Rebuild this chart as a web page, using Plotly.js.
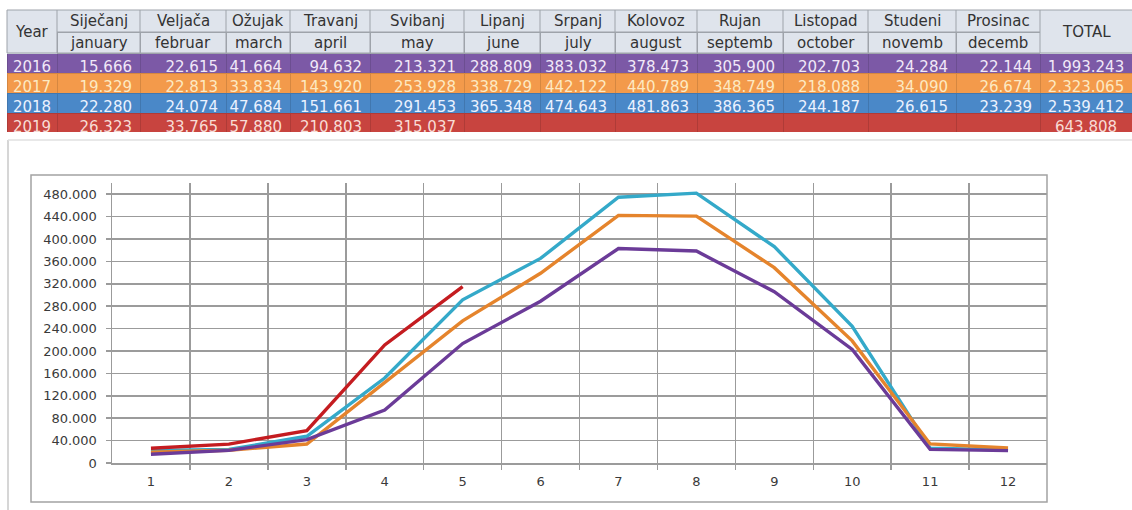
<!DOCTYPE html>
<html>
<head>
<meta charset="utf-8">
<script src="https://cdn.plot.ly/plotly-3.0.1.min.js"></script>
<style>html,body{margin:0;padding:0;background:#fff;}#chart{width:1132px;height:510px;}</style>
</head>
<body>
<div id="chart"></div>
<script>
// ---------- data ----------
const years = ["2016", "2017", "2018", "2019"];
const monthsHr = ["Siječanj","Veljača","Ožujak","Travanj","Svibanj","Lipanj","Srpanj","Kolovoz","Rujan","Listopad","Studeni","Prosinac"];
const monthsEn = ["january","februar","march","april","may","june","july","august","septemb","october","novemb","decemb"];
const monthNums = [1,2,3,4,5,6,7,8,9,10,11,12];
const v2016 = [15666, 22615, 41664, 94632, 213321, 288809, 383032, 378473, 305900, 202703, 24284, 22144];
const v2017 = [19329, 22813, 33834, 143920, 253928, 338729, 442122, 440789, 348749, 218088, 34090, 26674];
const v2018 = [22280, 24074, 47684, 151661, 291453, 365348, 474643, 481863, 386365, 244187, 26615, 23239];
const v2019 = [26323, 33765, 57880, 210803, 315037];
const totals = [1993243, 2323065, 2539412, 643808];

// ---------- styles / layout constants ----------
const W = 1132, H = 510;
const FONT = "DejaVu Sans";
const hdrFill = "#dfe4ec";
const hdrLine = "#9ea3aa";
const rowFill = ["#7c59a6", "#f39a4b", "#4a88c8", "#c8443f"];
const rowText = ["#f1e8f8", "#fde9c2", "#eaf2ff", "#f8dcd6"];
const lineCol = {"2016": "#6b3b98", "2017": "#e5842c", "2018": "#34a9c9", "2019": "#c41c20"};
const colW = [50, 83, 86, 64, 80, 94, 76, 75, 82, 86, 85, 88, 84, 92];
const tableLeft = 7, hTop = 10, hMid = 32, hBot = 53, rowH = 20;
const plotL = 112, plotR = 1047, plotT = 183, plotB = 463;

const X = px => px / W;
const Y = py => 1 - py / H;
const fmt = n => String(n).replace(/\B(?=(\d{3})+(?!\d))/g, ".");

const edges = [tableLeft];
colW.forEach(w => edges.push(edges[edges.length - 1] + w));
const tBot = hBot + rowH * years.length;

// ---------- table (second header row box + data cells) ----------
const series = [v2016, v2017, v2018, v2019];
const cellCols = [years];
monthNums.forEach((m, i) => cellCols.push(series.map(s => (i < s.length ? fmt(s[i]) : ""))));
cellCols.push(totals.map(fmt));
const nCols = cellCols.length;
const aligns = cellCols.map((c, i) => (i === 0 || i === nCols - 1) ? "center" : "right");
const hdrVals = cellCols.map(() => "");
const hdrLineCols = hdrVals.map((v, i) => (i === 0 || i === nCols - 1) ? hdrFill : hdrLine);

const tableTrace = {
  type: "table",
  domain: {x: [X(tableLeft), 1], y: [Y(tBot), Y(hMid)]},
  columnwidth: colW,
  header: {
    values: hdrVals,
    height: hBot - hMid,
    align: "center",
    fill: {color: hdrFill},
    line: {color: hdrLineCols, width: 1},
    font: {family: FONT, size: 15, color: "#333333"}
  },
  cells: {
    values: cellCols,
    align: aligns,
    height: rowH,
    fill: {color: cellCols.map(() => rowFill)},
    line: {color: "rgba(0,0,0,0.12)", width: 1},
    font: {family: FONT, size: 15, color: cellCols.map(() => rowText)}
  },
  hoverinfo: "skip"
};

// ---------- line traces ----------
const order = [["2018", v2018], ["2017", v2017], ["2016", v2016], ["2019", v2019]];
const lineTraces = order.map(([name, vals]) => ({
  type: "scatter",
  mode: "lines",
  name: name,
  x: monthNums.slice(0, vals.length),
  y: vals,
  line: {color: lineCol[name], width: 3.4},
  hoverinfo: "x+y+name"
}));

// ---------- header shapes & annotations ----------
const shapes = [];
const annotations = [];
shapes.push({type: "rect", xref: "paper", yref: "paper", x0: X(edges[0]), x1: 1, y0: Y(hBot), y1: Y(hTop),
  fillcolor: hdrFill, line: {width: 0}, layer: "below"});
[hTop, hBot].forEach(py => shapes.push({type: "line", xref: "paper", yref: "paper", x0: X(edges[0]), x1: 1, y0: Y(py), y1: Y(py), line: {color: hdrLine, width: 1}}));
shapes.push({type: "line", xref: "paper", yref: "paper", x0: X(edges[1]), x1: X(edges[13]), y0: Y(hMid), y1: Y(hMid), line: {color: hdrLine, width: 1}});
edges.slice(0, 14).forEach(ex => shapes.push({type: "line", xref: "paper", yref: "paper", x0: X(ex), x1: X(ex), y0: Y(hBot), y1: Y(hTop), line: {color: hdrLine, width: 1}}));

const hdrFont = {family: FONT, size: 15, color: "#333333"};
const cx = i => X((edges[i] + edges[i + 1]) / 2);
const addHdr = (text, col, py) => annotations.push({text: text, x: cx(col), y: Y(py), xref: "paper", yref: "paper",
  showarrow: false, xanchor: "center", yanchor: "middle", font: hdrFont});
addHdr("Year", 0, (hTop + hBot) / 2);
addHdr("TOTAL", 13, (hTop + hBot) / 2);
monthsHr.forEach((t, i) => addHdr(t, i + 1, (hTop + hMid) / 2 + 0.5));
monthsEn.forEach((t, i) => addHdr(t, i + 1, (hMid + hBot) / 2 + 0.5));

// chart frame and outer frame
shapes.push({type: "rect", xref: "paper", yref: "paper", x0: X(31), x1: X(1047), y0: Y(502), y1: Y(175), line: {color: "#a3a3a3", width: 1.5}, layer: "above"});
shapes.push({type: "line", xref: "paper", yref: "paper", x0: X(8), x1: X(8), y0: Y(510), y1: Y(140), line: {color: "#c9c9c9", width: 1.5}});
shapes.push({type: "line", xref: "paper", yref: "paper", x0: X(8), x1: 1, y0: Y(140), y1: Y(140), line: {color: "#e0e0e0", width: 1.5}});

const gridCol = "#9b9b9b";
const boundaries = monthNums.slice(0, -1).map(m => m + 0.5);

const layout = {
  width: W, height: H,
  margin: {l: 0, r: 0, t: 0, b: 0},
  paper_bgcolor: "#ffffff", plot_bgcolor: "#ffffff",
  separators: ",.",
  showlegend: false,
  font: {family: FONT, size: 13, color: "#404040"},
  xaxis: {
    domain: [X(plotL), X(plotR)],
    range: [0.5, 12.5],
    tickmode: "array", tickvals: monthNums, ticktext: monthNums.map(String),
    ticks: "", showgrid: false, zeroline: false,
    showline: true, linecolor: gridCol, linewidth: 1.5,
    tickfont: {family: FONT, size: 13, color: "#3a3a3a"},
    ticklabelstandoff: 6,
    minor: {tickmode: "array", tickvals: boundaries, ticks: "outside", ticklen: 5, tickcolor: gridCol, tickwidth: 1.5,
            showgrid: true, gridcolor: gridCol, gridwidth: 1.5},
    fixedrange: true
  },
  yaxis: {
    domain: [Y(plotB), Y(plotT)],
    range: [0, 500000],
    tick0: 0, dtick: 40000, tickformat: ",d",
    ticks: "outside", ticklen: 5, tickcolor: gridCol, tickwidth: 1.5,
    showgrid: true, gridcolor: gridCol, gridwidth: 1.5,
    zeroline: false, showline: true, linecolor: gridCol, linewidth: 1.5,
    tickfont: {family: FONT, size: 13, color: "#3a3a3a"},
    ticklabelstandoff: 6,
    fixedrange: true
  },
  shapes: shapes,
  annotations: annotations
};

Plotly.newPlot("chart", [tableTrace].concat(lineTraces), layout, {displayModeBar: false, staticPlot: true});
</script>
</body>
</html>
